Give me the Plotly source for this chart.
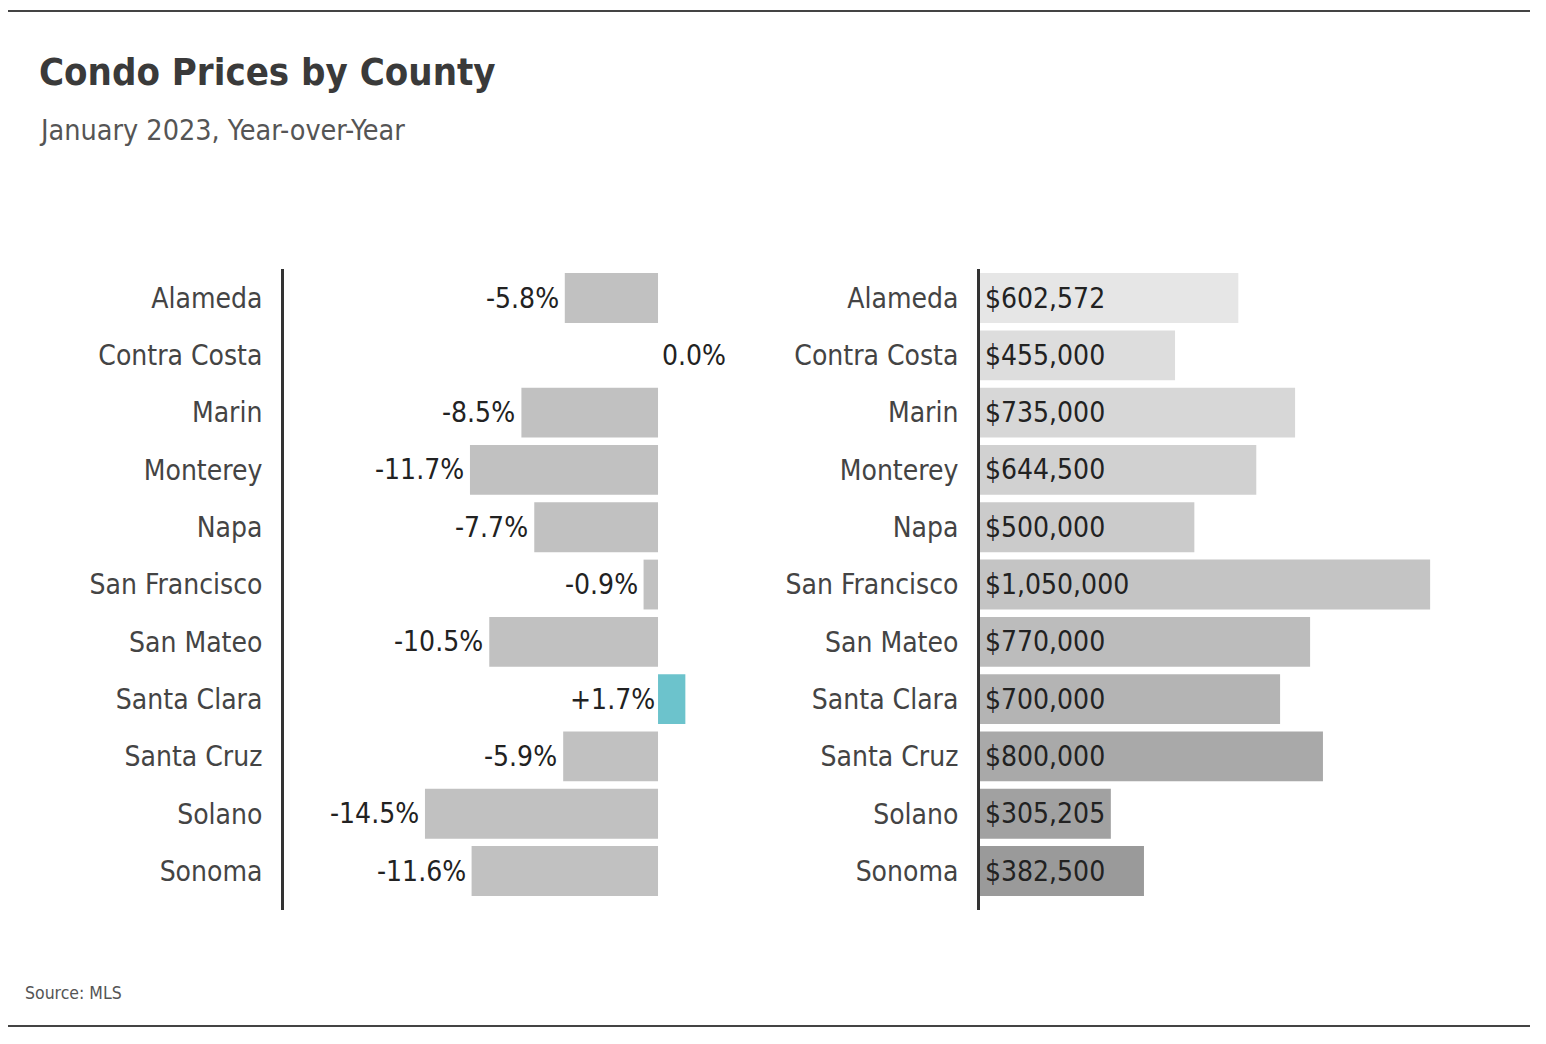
import plotly.graph_objects as go

counties = ["Alameda", "Contra Costa", "Marin", "Monterey", "Napa", "San Francisco",
            "San Mateo", "Santa Clara", "Santa Cruz", "Solano", "Sonoma"]
yoy_change = [-5.8, 0.0, -8.5, -11.7, -7.7, -0.9, -10.5, 1.7, -5.9, -14.5, -11.6]
median_price = [602572, 455000, 735000, 644500, 500000, 1050000, 770000, 700000, 800000, 305205, 382500]

title = "Condo Prices by County"
subtitle = "January 2023, Year-over-Year"
source = "Source: MLS"

FONT = "DejaVu Sans Condensed, Liberation Sans Narrow, Roboto, sans-serif"
NEG = "#c1c1c1"
POS = "#6cc3cc"
price_colors = ["#e6e6e6", "#dddddd", "#d7d7d7", "#d1d1d1", "#cbcbcb", "#c4c4c4",
                "#bcbcbc", "#b4b4b4", "#a9a9a9", "#a1a1a1", "#9a9a9a"]

# page body margin offset
OX, OY = 8, 8
W, H = 1530, 1028


def px(x):
    return (x - OX) / W


def py(y):
    return 1 - (y - OY) / H


fig = go.Figure()

fig.add_trace(go.Bar(
    y=counties, x=yoy_change, orientation="h",
    marker=dict(color=[POS if v > 0 else NEG for v in yoy_change], line=dict(width=0)),
    xaxis="x", yaxis="y", hoverinfo="skip", showlegend=False,
))
fig.add_trace(go.Bar(
    y=counties, x=median_price, orientation="h",
    marker=dict(color=price_colors, line=dict(width=0)),
    xaxis="x2", yaxis="y2", hoverinfo="skip", showlegend=False,
))

LBL = 28
annotations = []
for c, v in zip(counties, yoy_change):
    txt = ("+" if v > 0 else "") + f"{v:.1f}%"
    if v < 0:
        ax, anchor, shift = v, "right", -4
    elif v > 0:
        ax, anchor, shift = 0, "right", -1
    else:
        ax, anchor, shift = 0, "left", 2
    annotations.append(dict(x=ax, y=c, xref="x", yref="y", text=txt, showarrow=False,
                            xanchor=anchor, xshift=shift,
                            font=dict(family=FONT, size=LBL, color="#222")))
for c, p in zip(counties, median_price):
    annotations.append(dict(x=0, y=c, xref="x2", yref="y2", text=f"${p:,.0f}", showarrow=False,
                            xanchor="left", xshift=3,
                            font=dict(family=FONT, size=LBL, color="#222")))

annotations += [
    dict(x=px(37), y=py(72), xref="paper", yref="paper", text=f"<b>{title}</b>",
         showarrow=False, xanchor="left", yanchor="middle",
         font=dict(family=FONT, size=38, color="#3a3a3a")),
    dict(x=px(37), y=py(130), xref="paper", yref="paper", text=subtitle,
         showarrow=False, xanchor="left", yanchor="middle",
         font=dict(family=FONT, size=28.5, color="#555")),
    dict(x=px(23), y=py(993), xref="paper", yref="paper", text=source,
         showarrow=False, xanchor="left", yanchor="middle",
         font=dict(family=FONT, size=17.5, color="#555")),
]

shapes = [
    dict(type="line", xref="paper", yref="paper", x0=px(5), x1=px(1530), y0=py(11), y1=py(11),
         line=dict(color="#444", width=2)),
    dict(type="line", xref="paper", yref="paper", x0=px(5), x1=px(1530), y0=py(1026), y1=py(1026),
         line=dict(color="#444", width=2)),
]

ydom = [py(910), py(269.4)]
yax = dict(domain=ydom, range=[10.68, -0.5], type="category", showgrid=False, zeroline=False,
           showline=True, linecolor="#333", linewidth=3, ticks="", ticklabelstandoff=13,
           tickfont=dict(family=FONT, size=LBL, color="#444"))

fig.update_layout(
    width=W, height=H, margin=dict(l=0, r=0, t=0, b=0),
    paper_bgcolor="white", plot_bgcolor="white",
    bargap=0.13,
    xaxis=dict(domain=[px(284), px(740)], range=[-23.27, 5.1], visible=False, anchor="y"),
    xaxis2=dict(domain=[px(980), px(1530)], range=[0, 1283000], visible=False, anchor="y2"),
    yaxis=dict(**yax, anchor="x"),
    yaxis2=dict(**yax, anchor="x2"),
    annotations=annotations, shapes=shapes,
)

fig.write_html("out.html")
